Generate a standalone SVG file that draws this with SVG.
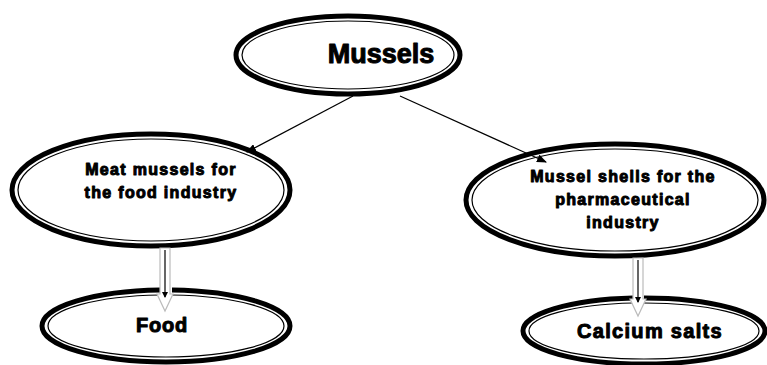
<svg xmlns="http://www.w3.org/2000/svg" width="767" height="365" viewBox="0 0 767 365">
<defs>
<marker id="ah" markerWidth="10" markerHeight="8" refX="9" refY="4" orient="auto" markerUnits="userSpaceOnUse">
<path d="M0,0 L10,4 L0,8 Z" fill="#000"/>
</marker>
<marker id="sh" markerWidth="6" markerHeight="6" refX="5" refY="3" orient="auto" markerUnits="userSpaceOnUse">
<path d="M0,0 L6,3 L0,6 Z" fill="#000"/>
</marker>
</defs>
<style>
.o{fill:#fff;stroke:#000;stroke-width:5}
.i{fill:none;stroke:#000;stroke-width:1.2}
.t{font-family:"Liberation Sans",Arial,sans-serif;font-weight:bold;fill:#000;stroke:#000;stroke-width:1;stroke-linejoin:round;text-anchor:middle}
.s{font-size:16px;letter-spacing:1.3px}
.b{fill:#fff;stroke:#bbb;stroke-width:1.2}
.c{stroke:#000;stroke-width:1.2;fill:none}
</style>
<rect width="767" height="365" fill="#fff"/>
<g id="mussels">
<ellipse class="o" cx="348" cy="55" rx="112" ry="39"/>
<ellipse class="i" cx="348" cy="55" rx="106" ry="34"/>
<text class="t" x="381" y="63" font-size="27">Mussels</text>
</g>
<g id="meat">
<ellipse class="o" cx="151" cy="190" rx="139" ry="56"/>
<ellipse class="i" cx="151" cy="190" rx="133" ry="51"/>
<text class="t s" x="161" y="175">Meat mussels for</text>
<text class="t s" x="161" y="198">the food industry</text>
</g>
<g id="shells">
<ellipse class="o" cx="615" cy="200" rx="149" ry="56"/>
<ellipse class="i" cx="615" cy="200" rx="143" ry="51"/>
<text class="t s" x="623" y="182">Mussel shells for the</text>
<text class="t s" x="623" y="205">pharmaceutical</text>
<text class="t s" x="623" y="228">industry</text>
</g>
<g id="food">
<path class="o" d="M42,326 A124,36 0 0 1 160,290 M172,290 A124,36 0 0 1 290,326 A124,36 0 0 1 42,326"/>
<path class="i" d="M48,326 A118,31 0 0 1 160,295 M172,295 A118,31 0 0 1 284,326 A118,31 0 0 1 48,326"/>
<text class="t" x="162" y="332" font-size="20" letter-spacing="0.8">Food</text>
</g>
<g id="calcium">
<path class="o" d="M523,331 A121,33 0 0 1 633,298 M644,298 A121,33 0 0 1 765,331 A121,33 0 0 1 523,331"/>
<path class="i" d="M529,331 A115,28 0 0 1 633,303 M644,303 A115,28 0 0 1 759,331 A115,28 0 0 1 529,331"/>
<text class="t" x="650" y="338" font-size="20" letter-spacing="1.3">Calcium salts</text>
</g>
<g id="connectors">
<line class="c" x1="353" y1="96" x2="247" y2="152" marker-end="url(#ah)"/>
<line class="c" x1="400" y1="96" x2="546" y2="162" marker-end="url(#ah)"/>
<path class="b" d="M160,248 L170,248 L170,294 L173,294 L165,311 L157,294 L160,294 Z"/>
<line class="c" x1="165" y1="250" x2="165" y2="297" marker-end="url(#sh)"/>
<path class="b" d="M633,258 L643,258 L643,299 L646,299 L638,316 L630,299 L633,299 Z"/>
<line class="c" x1="638" y1="260" x2="638" y2="302" marker-end="url(#sh)"/>
</g>
</svg>
